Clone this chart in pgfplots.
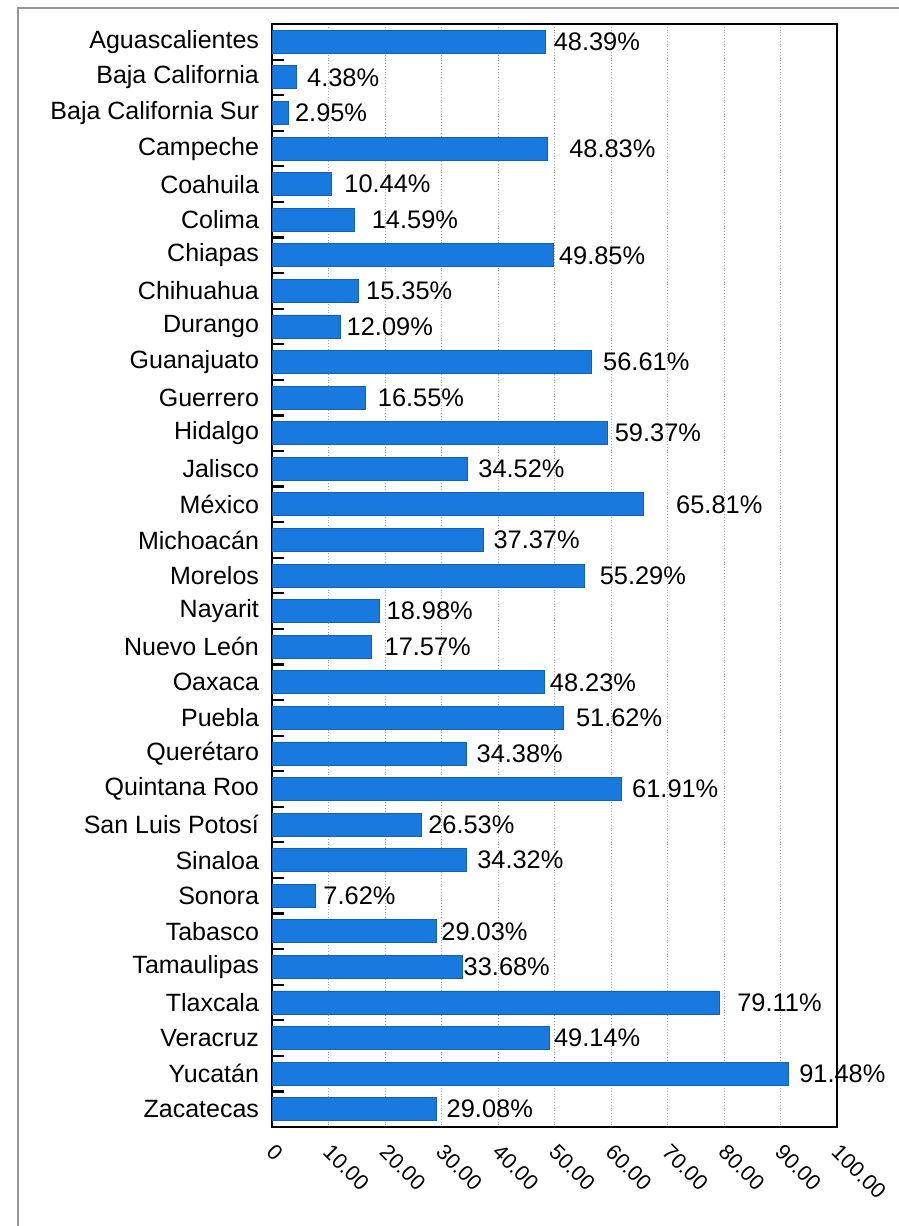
\documentclass[border=0pt]{standalone}
\usepackage{fontspec}
\setmainfont{Liberation Sans}
\usepackage{pgfplots}
\usepackage{pgfplotstable}
\pgfplotsset{compat=1.18}
\definecolor{barblue}{RGB}{24,122,222}
\definecolor{frame}{RGB}{150,150,150}

% gap = distance (pt) between bar end and its label, as in the scan
\pgfplotstableread[col sep=comma]{
estado,valor,gap
Aguascalientes,48.39,4
Baja California,4.38,5
Baja California Sur,2.95,3
Campeche,48.83,10.5
Coahuila,10.44,6.5
Colima,14.59,8.5
Chiapas,49.85,2.5
Chihuahua,15.35,3.5
Durango,12.09,3
Guanajuato,56.61,5.5
Guerrero,16.55,6
Hidalgo,59.37,3.5
Jalisco,34.52,5.5
México,65.81,16
Michoacán,37.37,5
Morelos,55.29,7.5
Nayarit,18.98,3.5
Nuevo León,17.57,6.5
Oaxaca,48.23,2.5
Puebla,51.62,6
Querétaro,34.38,5
Quintana Roo,61.91,5
San Luis Potosí,26.53,3
Sinaloa,34.32,5.5
Sonora,7.62,4
Tabasco,29.03,2.5
Tamaulipas,33.68,0.5
Tlaxcala,79.11,9
Veracruz,49.14,2
Yucatán,91.48,5
Zacatecas,29.08,5
}\datos

\begin{document}
\begin{tikzpicture}
\begin{axis}[
    at={(136pt,-563.5pt)}, anchor=south west,
    scale only axis,
    width=282.5pt, height=551.5pt,
    xbar, bar width=11.5pt,
    xmin=0, xmax=100,
    ymin=-0.5, ymax=30.5,
    y dir=reverse,
    /pgf/number format/assume math mode=true,
    xtick={0,10,...,100},
    xticklabels={0,10.00,20.00,30.00,40.00,50.00,60.00,70.00,80.00,90.00,100.00},
    xticklabel style={xshift=2pt, yshift=-7.7pt, rotate=-45, anchor=north west,
        font=\fontsize{10.8}{12}\selectfont, inner sep=0pt},
    xmajorgrids, grid style={gray!70, densely dotted},
    x tick style={draw=none},
    ytick={0,...,30},
    yticklabels from table={\datos}{estado},
    yticklabel style={font=\fontsize{12.5}{15}\selectfont, xshift=-3pt},
    y tick style={black, line width=1.1pt},
    major tick length=0pt,
    extra y ticks={-0.5,0.5,...,30.5},
    extra y tick labels={},
    extra y tick style={major tick length=6pt, tick align=inside, ytick pos=left, grid=none},
    axis line style={black, line width=0.8pt},
    point meta=x,
    visualization depends on={\thisrow{gap} \as \gap},
    nodes near coords={\pgfmathprintnumber[fixed, fixed zerofill, precision=2]{\pgfplotspointmeta}\%},
    nodes near coords style={anchor=west, inner sep=0pt, xshift=\gap pt,
        font=\fontsize{12.7}{15}\selectfont, black},
]
\addplot[fill=barblue, draw=barblue!80!black] table[x=valor, y expr=\coordindex] {\datos};
\end{axis}
\draw[frame, line width=1pt] (9pt,-613pt) -- (9pt,-4pt) -- (449.5pt,-4pt);
\pgfresetboundingbox
\path[use as bounding box] (0,0) rectangle (449.5pt,-613pt);
\end{tikzpicture}
\end{document}
